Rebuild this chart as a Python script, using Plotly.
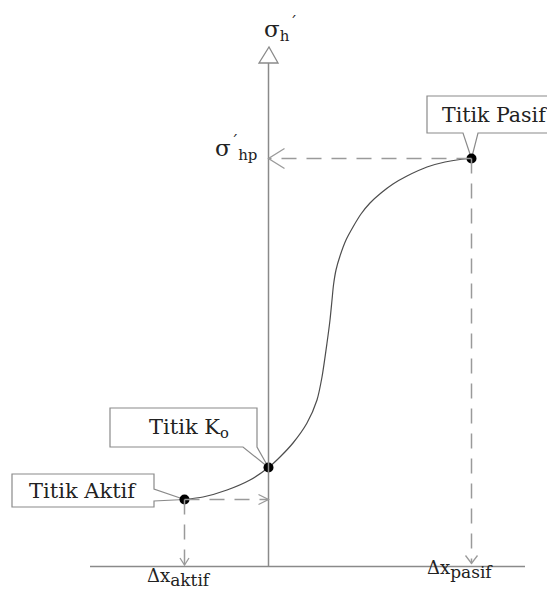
import plotly.graph_objects as go

# Lateral displacement (x) vs horizontal earth stress (y), arbitrary units
curve_x = [-84, -65.5, -41.5, -18.5, 0, 11.5, 24.5, 38.5, 48.5, 53.5, 58.5, 61.5,
           63.5, 65, 67.5, 71.5, 77.5, 84.5, 92.5, 101.5, 112.5, 124.5, 138.5,
           158.5, 176.5, 191.5, 203]
curve_y = [67, 69.5, 76.5, 86.5, 99, 109.5, 123.5, 143.5, 166.5, 189.5, 223.5, 246.5,
           266.5, 281.5, 296.5, 310.5, 326.5, 339.5, 352.5, 363.5, 373.5, 382.5, 390.5,
           399.5, 404.5, 407, 408]

# Characteristic states on the curve
state_names = ["Titik Aktif", "Titik K<sub>o</sub>", "Titik Pasif"]
state_x = [-84, 0, 203]
state_y = [67, 99, 408]

AXIS = "#8a8a8a"
DASH = "#9a9a9a"
FONT = "DejaVu Serif"

x_akt, x_ko, x_pas = state_x
y_akt, y_ko, y_pas = state_y

fig = go.Figure()

shapes = []

# Callout boxes with pointer wedges (drawn beneath the traces)
def callout(path):
    shapes.append(dict(type="path", path=path, xref="x", yref="y", layer="below",
                       line=dict(color=AXIS, width=1.2), fillcolor="white"))

# Titik Aktif: box left of the point, wedge on its right edge
L, R, T, B = -256.5, -114.5, 92.5, 59.5
callout(f"M{L},{T} L{R},{T} L{R},{y_akt + 10.5} L{x_akt},{y_akt} L{R},{y_akt - 1.5} "
        f"L{R},{B} L{L},{B} Z")
# Titik Ko: box up-left, wedge at its bottom-right corner
L, R, T, B = -158.5, -11.5, 158.5, 119.5
callout(f"M{L},{T} L{R},{T} L{R},{B} L{x_ko},{y_ko} L{R - 14},{B} L{L},{B} Z")
# Titik Pasif: box above, wedge on its bottom edge
L, R, T, B = 158.5, 300, 470.5, 433.5
callout(f"M{L},{T} L{R},{T} L{R},{B} L{x_pas + 6.5},{B} L{x_pas},{y_pas} "
        f"L{x_pas - 8.5},{B} L{L},{B} Z")

# Axes
shapes.append(dict(type="line", xref="x", yref="y", x0=-178.5, x1=256.5, y0=0, y1=0,
                   line=dict(color=AXIS, width=1.5)))
shapes.append(dict(type="line", xref="x", yref="y", x0=0, x1=0, y0=0, y1=503.5,
                   line=dict(color=AXIS, width=1.5)))
shapes.append(dict(type="path", xref="x", yref="y",
                   path="M-9.5,503.5 L9.5,503.5 L0.5,519.5 Z",
                   line=dict(color=AXIS, width=1.3), fillcolor="white"))

# Dashed projection lines from the active and passive states
dash = dict(color=DASH, width=1.5, dash="15px,10px")
shapes += [
    dict(type="line", xref="x", yref="y", x0=x_pas, x1=0, y0=y_pas, y1=y_pas, line=dash),
    dict(type="line", xref="x", yref="y", x0=x_pas, x1=x_pas, y0=y_pas, y1=3, line=dash),
    dict(type="line", xref="x", yref="y", x0=x_akt, x1=0, y0=y_akt, y1=y_akt, line=dash),
    dict(type="line", xref="x", yref="y", x0=x_akt, x1=x_akt, y0=y_akt, y1=1.5, line=dash),
]

# Open arrowheads at the ends of the projection lines
def chevron(tx, ty, ax, ay, bx, by):
    shapes.append(dict(type="path", xref="x", yref="y",
                       path=f"M{tx + ax},{ty + ay} L{tx},{ty} L{tx + bx},{ty + by}",
                       line=dict(color=DASH, width=1.3)))

chevron(0, y_pas, 16, 10, 16, -10)
chevron(x_pas, 3, -6, 8, 6, 8)
chevron(0, y_akt, -10, 5, -10, -5)
chevron(x_akt, 1.5, -4.5, 7, 4.5, 7)

# Stress-displacement curve
fig.add_trace(go.Scatter(x=curve_x, y=curve_y, mode="lines",
                         line=dict(color="#4d4d4d", width=1.2, shape="spline", smoothing=0.7),
                         hoverinfo="skip", showlegend=False))
fig.add_trace(go.Scatter(x=state_x, y=state_y, mode="markers",
                         marker=dict(color="black", size=10),
                         hoverinfo="skip", showlegend=False))

annotations = [
    dict(x=-186, y=76, text=state_names[0], font=dict(size=21)),
    dict(x=-80, y=138.5, text=state_names[1], font=dict(size=21)),
    dict(x=171, y=451.5, text=state_names[2], xanchor="left", font=dict(size=20.5)),
    dict(x=-6.5, y=538, xanchor="left", font=dict(size=23),
         text='σ<sub><span style="font-size:15px">h</span></sub>'
              '<sup><span style="font-size:15px">´</span></sup>'),
    dict(x=-10, y=418.5, xanchor="right", font=dict(size=23),
         text='σ<sup><span style="font-size:15px">´</span></sup>'
              '<sub><span style="font-size:15px">hp</span></sub>'),
    dict(x=-124, y=-11, xanchor="left", font=dict(size=18),
         text='Δx<sub><span style="font-size:17px">aktif</span></sub>'),
    dict(x=156, y=-3, xanchor="left", font=dict(size=18),
         text='Δx<sub><span style="font-size:17px">pasif</span></sub>'),
]
for a in annotations:
    a.update(xref="x", yref="y", showarrow=False)
    a["font"].update(family=FONT, color="#222222")

fig.update_layout(
    width=547, height=590,
    margin=dict(l=0, r=0, t=0, b=0),
    paper_bgcolor="white", plot_bgcolor="white",
    font=dict(family=FONT),
    xaxis=dict(range=[-268.5, 278.5], visible=False, fixedrange=True),
    yaxis=dict(range=[-23.5, 566.5], visible=False, fixedrange=True),
    shapes=shapes,
    annotations=annotations,
    showlegend=False,
)

fig.write_html("out.html")
